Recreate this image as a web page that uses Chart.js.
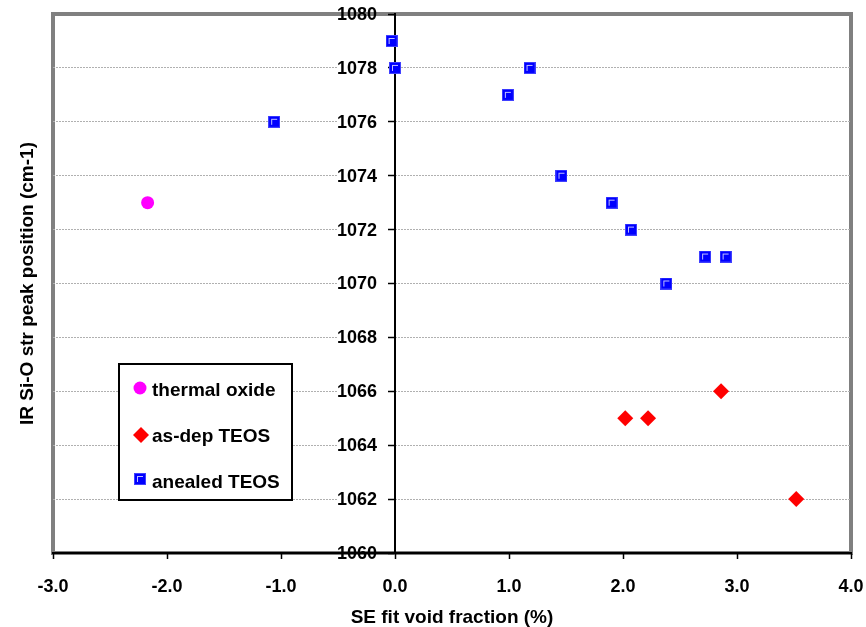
<!DOCTYPE html>
<html>
<head>
<meta charset="utf-8">
<script src="https://cdn.jsdelivr.net/npm/chart.js@4.4.0/dist/chart.umd.min.js"></script>
<style>
  html, body { margin: 0; padding: 0; background: #fff; }
</style>
</head>
<body>
<canvas id="chart" width="866" height="627"></canvas>
<script>
// data
const seriesNames = ["thermal oxide", "as-dep TEOS", "anealed TEOS"];
const thermalX = [-2.17];
const thermalY = [1073];
const asDepX = [2.02, 2.22, 2.86, 3.52];
const asDepY = [1065, 1065, 1066, 1062];
const annealedX = [-0.03, 0.0, 0.99, 1.18, -1.06, 1.46, 1.90, 2.07, 2.38, 2.72, 2.90];
const annealedY = [1079, 1078, 1077, 1078, 1076, 1074, 1073, 1072, 1070, 1071, 1071];
const xTicks = [-3, -2, -1, 0, 1, 2, 3, 4];
const yTicks = [1060, 1062, 1064, 1066, 1068, 1070, 1072, 1074, 1076, 1078, 1080];
const xTitle = "SE fit void fraction (%)";
const yTitle = "IR Si-O str peak position (cm-1)";

const FONT = "'Liberation Sans', Arial, sans-serif";

function toPoints(xs, ys) {
  return xs.map((x, i) => ({ x: x, y: ys[i] }));
}

// excel style blue square marker
function makeSquare() {
  const c = document.createElement("canvas");
  c.width = 12;
  c.height = 12;
  const g = c.getContext("2d");
  g.fillStyle = "#4040ff";
  g.fillRect(0, 0, 12, 12);
  g.fillStyle = "#0000ff";
  g.fillRect(1, 1, 10, 10);
  g.fillStyle = "#c0c0ff";
  g.fillRect(3, 3, 6, 1);
  g.fillRect(3, 3, 1, 6);
  return c;
}
const squareImg = makeSquare();

const framePlugin = {
  id: "frame",
  beforeDraw(chart) {
    const ctx = chart.ctx;
    const a = chart.chartArea;
    ctx.save();
    ctx.fillStyle = "#fff";
    ctx.fillRect(0, 0, chart.width, chart.height);
    ctx.strokeStyle = "#808080";
    ctx.lineWidth = 4;
    ctx.strokeRect(a.left, a.top, a.right - a.left, a.bottom - a.top);
    ctx.restore();
  },
  beforeDatasetsDraw(chart) {
    const ctx = chart.ctx;
    const a = chart.chartArea;
    const xs = chart.scales.x;
    const ys = chart.scales.y;

    // y tick labels sit left of the axis that crosses at x = 0,
    // on a white patch that hides the grid line behind them
    ctx.save();
    ctx.font = "bold 18px " + FONT;
    ctx.textAlign = "right";
    ctx.textBaseline = "middle";
    const axisX = xs.getPixelForValue(0);
    yTicks.forEach(v => {
      const py = ys.getPixelForValue(v);
      const w = ctx.measureText(String(v)).width;
      if (v !== 1060 && v !== 1080) {
        ctx.fillStyle = "#fff";
        ctx.fillRect(axisX - 18 - w, py - 2, w + 11, 4);
      }
      ctx.fillStyle = "#000";
      ctx.fillText(String(v), axisX - 18, py + 1);
    });
    // x axis line drawn again over the lowest label
    ctx.strokeStyle = "#000";
    ctx.lineWidth = 2;
    ctx.beginPath();
    ctx.moveTo(a.left, Math.round(a.bottom));
    ctx.lineTo(a.right, Math.round(a.bottom));
    ctx.stroke();
    ctx.restore();
  },
  afterDatasetsDraw(chart) {
    const ctx = chart.ctx;
    const a = chart.chartArea;

    // y axis title
    ctx.save();
    ctx.translate(28, (a.top + a.bottom) / 2);
    ctx.rotate(-Math.PI / 2);
    ctx.font = "bold 19px " + FONT;
    ctx.fillStyle = "#000";
    ctx.textAlign = "center";
    ctx.textBaseline = "middle";
    ctx.fillText(yTitle, 0, 0);
    ctx.restore();

    // legend box
    ctx.save();
    ctx.fillStyle = "#fff";
    ctx.fillRect(119, 364, 173, 136);
    ctx.strokeStyle = "#000";
    ctx.lineWidth = 2;
    ctx.strokeRect(119, 364, 173, 136);
    const rows = [391, 437, 483];
    // circle
    ctx.fillStyle = "#ff00ff";
    ctx.beginPath();
    ctx.arc(140, 388, 6.5, 0, Math.PI * 2);
    ctx.fill();
    // diamond
    ctx.fillStyle = "#ff0000";
    ctx.beginPath();
    ctx.moveTo(141, 427);
    ctx.lineTo(149, 435);
    ctx.lineTo(141, 443);
    ctx.lineTo(133, 435);
    ctx.closePath();
    ctx.fill();
    // square
    ctx.drawImage(squareImg, 134, 473);
    ctx.font = "bold 19px " + FONT;
    ctx.fillStyle = "#000";
    ctx.textBaseline = "middle";
    seriesNames.forEach((n, i) => ctx.fillText(n, 152, rows[i]));
    ctx.restore();
  }
};

new Chart(document.getElementById("chart"), {
  type: "scatter",
  data: {
    datasets: [
      {
        label: seriesNames[0],
        data: toPoints(thermalX, thermalY),
        pointStyle: "circle",
        pointRadius: 6.5,
        pointBackgroundColor: "#ff00ff",
        pointBorderWidth: 0
      },
      {
        label: seriesNames[1],
        data: toPoints(asDepX, asDepY),
        pointStyle: "rectRot",
        pointRadius: 8,
        pointBackgroundColor: "#ff0000",
        pointBorderWidth: 0
      },
      {
        label: seriesNames[2],
        data: toPoints(annealedX, annealedY),
        pointStyle: squareImg,
        pointRadius: 6
      }
    ]
  },
  options: {
    responsive: false,
    animation: false,
    events: [],
    layout: { padding: { left: 53, right: 15, top: 14, bottom: 0 } },
    plugins: {
      legend: { display: false },
      tooltip: { enabled: false }
    },
    scales: {
      x: {
        type: "linear",
        min: -3,
        max: 4,
        afterBuildTicks: (s) => { s.ticks = xTicks.map(v => ({ value: v })); },
        afterFit: (s) => {
          s.height = 74;
          s.paddingLeft = 0;
          s.paddingRight = 0;
        },
        grid: {
          drawOnChartArea: false,
          drawTicks: true,
          tickLength: 6,
          tickColor: "#000",
          tickWidth: 1.5
        },
        border: { display: true, color: "#000", width: 2 },
        ticks: {
          padding: 17,
          color: "#000",
          font: { family: FONT, size: 18, weight: "bold" },
          callback: (v) => Number(v).toFixed(1)
        },
        title: {
          display: true,
          text: xTitle,
          color: "#000",
          font: { family: FONT, size: 19, weight: "bold", lineHeight: 1 },
          padding: { top: 8, bottom: 0 }
        }
      },
      y: {
        type: "linear",
        position: { x: 0 },
        min: 1060,
        max: 1080,
        afterBuildTicks: (s) => { s.ticks = yTicks.map(v => ({ value: v })); },
        grid: {
          drawOnChartArea: true,
          color: (c) => (c.tick && (c.tick.value === 1060 || c.tick.value === 1080)) ? "rgba(0,0,0,0)" : "#b0b0b0",
          lineWidth: 1,
          tickLength: 6,
          tickColor: "#000",
          tickWidth: 1.5
        },
        border: { display: true, color: "#000", width: 2, dash: [2, 1] },
        ticks: { display: false }
      }
    }
  },
  plugins: [framePlugin]
});
</script>
</body>
</html>
